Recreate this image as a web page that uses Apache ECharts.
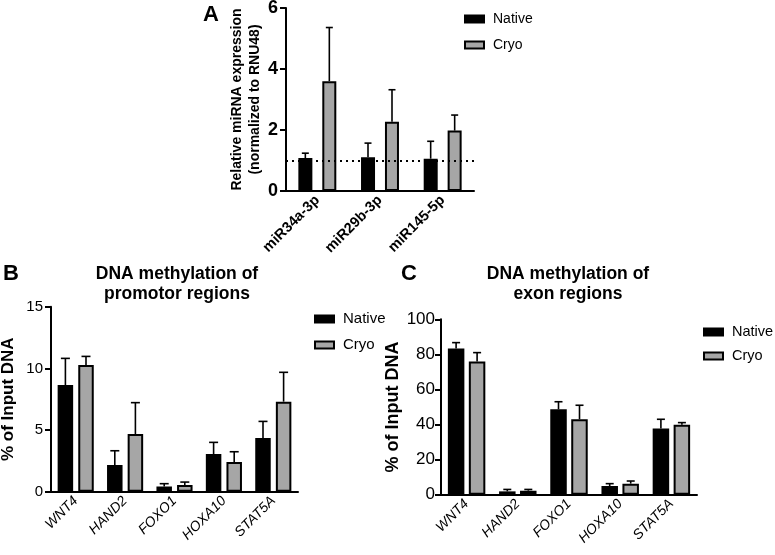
<!DOCTYPE html>
<html>
<head>
<meta charset="utf-8">
<script src="https://cdn.jsdelivr.net/npm/echarts@6/dist/echarts.min.js"></script>
<style>
  html, body { margin: 0; padding: 0; background: #fff; }
  #main { width: 775px; height: 555px; }
</style>
</head>
<body>
<div id="main"></div>
<script>
var chartDom = document.getElementById('main');
var myChart = echarts.init(chartDom);
var option;

// panel A - miRNA expression
var mirNames = ['miR34a-3p', 'miR29b-3p', 'miR145-5p'];
var mirNative = [1.08, 1.11, 1.06];
var mirNativeSD = [0.16, 0.46, 0.57];
var mirCryo = [3.60, 2.27, 1.98];
var mirCryoSD = [1.76, 1.05, 0.51];

// panels B and C - methylation
var genes = ['WNT4', 'HAND2', 'FOXO1', 'HOXA10', 'STAT5A'];
var promNative = [8.65, 2.16, 0.43, 3.05, 4.35];
var promNativeSD = [2.16, 1.16, 0.22, 0.95, 1.35];
var promCryo = [10.27, 4.68, 0.54, 2.41, 7.30];
var promCryoSD = [0.70, 2.54, 0.24, 0.83, 2.38];
var exonNative = [83.3, 1.9, 48.7, 4.9, 37.8];
var exonNativeSD = [3.4, 1.1, 4.3, 1.4, 5.2];
var exonCryo = [75.9, 2.3, 43.0, 6.3, 39.9];
var exonCryoSD = [5.1, 0.7, 8.0, 1.5, 1.2];

var FONT = 'Arial, "Liberation Sans", sans-serif';
var GREY = '#a6a6a6';

function errData(vals, sd) {
  return vals.map(function (v, i) { return [i, v, v + sd[i]]; });
}

function errSeries(vals, sd, offset, cap, idx) {
  return {
    type: 'custom',
    name: 'err',
    xAxisIndex: idx,
    yAxisIndex: idx,
    z: 1,
    silent: true,
    data: errData(vals, sd),
    renderItem: function (params, api) {
      var base = api.coord([api.value(0), api.value(1)]);
      var top = api.coord([api.value(0), api.value(2)]);
      var x = base[0] + offset;
      var st = { stroke: '#000', lineWidth: 1.6 };
      return {
        type: 'group',
        children: [
          { type: 'line', shape: { x1: x, y1: base[1], x2: x, y2: top[1] }, style: st },
          { type: 'line', shape: { x1: x - cap, y1: top[1], x2: x + cap, y2: top[1] }, style: st }
        ]
      };
    }
  };
}

function barSeries(name, vals, fill, w, gap, idx) {
  return {
    type: 'bar',
    name: name,
    xAxisIndex: idx,
    yAxisIndex: idx,
    barWidth: w,
    barGap: gap,
    z: 2,
    itemStyle: { color: fill, borderColor: '#000', borderWidth: 2 },
    data: vals
  };
}

function xAx(idx, cats, labelStyle) {
  return {
    type: 'category',
    gridIndex: idx,
    data: cats,
    axisLine: { lineStyle: { color: '#000', width: 2 } },
    axisTick: { alignWithLabel: true, length: 6, lineStyle: { color: '#000', width: 2 } },
    axisLabel: Object.assign({ rotate: 45, margin: 7, color: '#000', fontFamily: FONT }, labelStyle)
  };
}

function yAx(idx, max, step, name, gap, nameStyle, labelStyle) {
  return {
    type: 'value',
    gridIndex: idx,
    min: 0,
    max: max,
    interval: step,
    name: name,
    nameLocation: 'middle',
    nameGap: gap,
    nameTextStyle: Object.assign({ color: '#000', fontFamily: FONT, fontWeight: 'bold' }, nameStyle),
    splitLine: { show: false },
    axisLine: { show: true, lineStyle: { color: '#000', width: 2 } },
    axisTick: { show: true, length: 6, lineStyle: { color: '#000', width: 2 } },
    axisLabel: Object.assign({ color: '#000', fontFamily: FONT }, labelStyle)
  };
}

function legendAt(left, top, gap, size) {
  return {
    left: left,
    top: top,
    orient: 'vertical',
    icon: 'rect',
    itemWidth: 19,
    itemHeight: 7,
    itemGap: gap,
    data: ['Native', 'Cryo'],
    textStyle: { color: '#000', fontFamily: FONT, fontSize: size, lineHeight: 16, padding: [0, 0, 0, 4] }
  };
}

var titleFont = 'bold 17.5px ' + FONT;
var letterFont = 'bold 22px ' + FONT;

option = {
  animation: false,
  backgroundColor: '#fff',
  graphic: [
    { type: 'text', x: 203, y: 4, style: { text: 'A', font: letterFont, fill: '#000' } },
    { type: 'text', x: 3, y: 263, style: { text: 'B', font: letterFont, fill: '#000' } },
    { type: 'text', x: 401, y: 263, style: { text: 'C', font: letterFont, fill: '#000' } },
    { type: 'text', x: 177, y: 264, style: { text: 'DNA methylation of\npromotor regions', font: titleFont, fill: '#000', align: 'center', lineHeight: 20 } },
    { type: 'text', x: 568, y: 264, style: { text: 'DNA methylation of\nexon regions', font: titleFont, fill: '#000', align: 'center', lineHeight: 20 } }
  ],
  legend: [
    legendAt(459, 6, 10, 14),
    legendAt(309, 306, 10, 15),
    legendAt(698, 319, 8, 14.5)
  ],
  grid: [
    { left: 286, top: 8, width: 188, height: 183, outerBoundsMode: 'none' },
    { left: 51, top: 306.7, width: 247, height: 185, outerBoundsMode: 'none' },
    { left: 441, top: 319.3, width: 256, height: 175.4, outerBoundsMode: 'none' }
  ],
  xAxis: [
    xAx(0, mirNames, { fontSize: 14.5, fontWeight: 'bold' }),
    xAx(1, genes, { fontSize: 14, fontStyle: 'italic' }),
    xAx(2, genes, { fontSize: 14, fontStyle: 'italic' })
  ],
  yAxis: [
    yAx(0, 6, 2, 'Relative miRNA expression\n(normalized to RNU48)', 18, { fontSize: 14, lineHeight: 18 }, { fontSize: 18, fontWeight: 'bold', margin: 8 }),
    yAx(1, 15, 5, '% of Input DNA', 34, { fontSize: 17 }, { fontSize: 15, margin: 8 }),
    yAx(2, 100, 20, '% of Input DNA', 39, { fontSize: 18 }, { fontSize: 17, margin: 6 })
  ],
  series: [
    Object.assign(barSeries('Native', mirNative, '#000', 14, '71%', 0), {
      markLine: {
        silent: true,
        symbol: 'none',
        label: { show: false },
        lineStyle: { color: '#000', type: [2, 4], width: 2 },
        data: [{ yAxis: 1 }]
      }
    }),
    barSeries('Cryo', mirCryo, GREY, 14, '71%', 0),
    errSeries(mirNative, mirNativeSD, -12, 3.5, 0),
    errSeries(mirCryo, mirCryoSD, 12, 3.5, 0),

    barSeries('Native', promNative, '#000', 15.5, '33%', 1),
    barSeries('Cryo', promCryo, GREY, 15.5, '33%', 1),
    errSeries(promNative, promNativeSD, -10.3, 4.5, 1),
    errSeries(promCryo, promCryoSD, 10.3, 4.5, 1),

    barSeries('Native', exonNative, '#000', 16.5, '27%', 2),
    barSeries('Cryo', exonCryo, GREY, 16.5, '27%', 2),
    errSeries(exonNative, exonNativeSD, -10.5, 4, 2),
    errSeries(exonCryo, exonCryoSD, 10.5, 4, 2)
  ]
};

option && myChart.setOption(option);
</script>
</body>
</html>
